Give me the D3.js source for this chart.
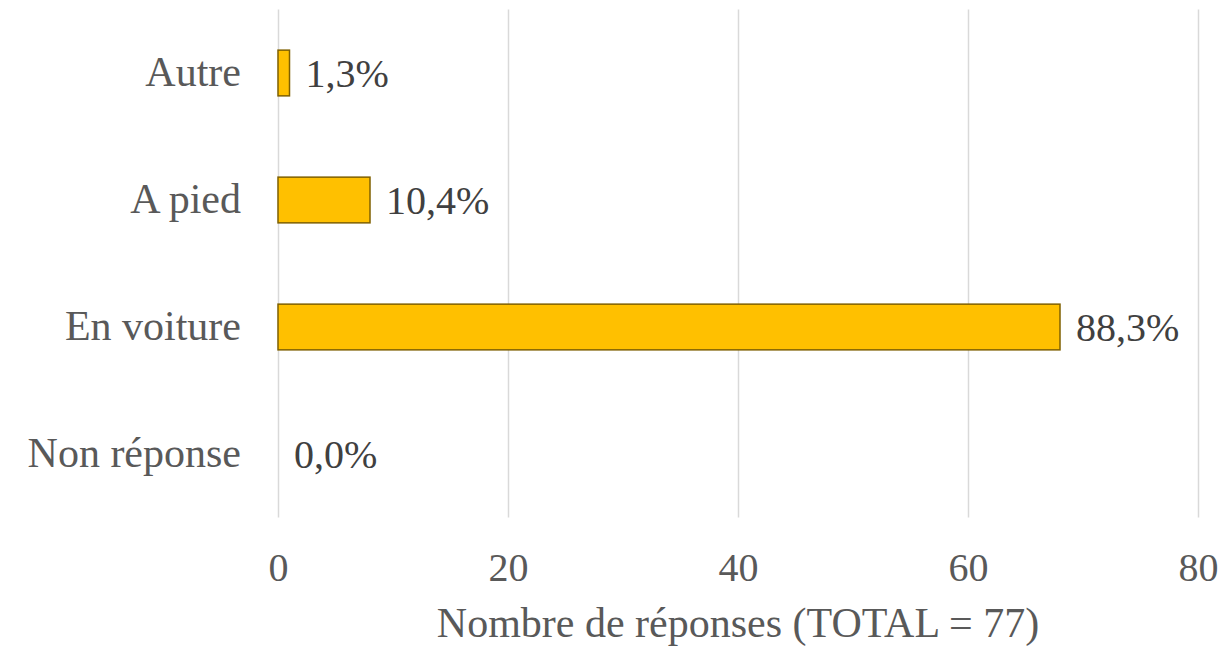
<!DOCTYPE html>
<html>
<head>
<meta charset="utf-8">
<script src="https://cdn.jsdelivr.net/npm/d3@7"></script>
<style>
  body { margin: 0; background: #fff; }
  text { font-family: "Liberation Serif", serif; }
</style>
</head>
<body>
<svg class="chart"></svg>
<script>
var categories = ["Autre", "A pied", "En voiture", "Non réponse"]
var counts = [1, 8, 68, 0]
var pctLabels = ["1,3%", "10,4%", "88,3%", "0,0%"]
var xTicks = [0, 20, 40, 60, 80]
var axisTitle = "Nombre de réponses (TOTAL = 77)"

var margin = {top: 9.5, right: 28, bottom: 128.5, left: 278},
    width  = 1226 - margin.left - margin.right,
    height = 646 - margin.top - margin.bottom

var chart = d3.select(".chart")
    .attr("width", 1226)
    .attr("height", 646)

var g = chart.append("g")
    .attr("transform", "translate(" + margin.left + "," + margin.top + ")")

var x = d3.scaleLinear().domain([0, 80]).range([0, 920])

var y = d3.scaleBand()
    .domain(categories)
    .range([0, height])
    .paddingInner(0.64)
    .paddingOuter(0.32)

// gridlines
g.selectAll(".grid")
    .data(xTicks)
  .enter().append("line")
    .attr("x1", function(d) { return Math.round(x(d)) + 0.5 })
    .attr("x2", function(d) { return Math.round(x(d)) + 0.5 })
    .attr("y1", 0)
    .attr("y2", height)
    .attr("stroke", "#d9d9d9")
    .attr("stroke-width", 1.5)

// bars
g.selectAll(".bar")
    .data(categories)
  .enter().append("rect")
    .filter(function(d, i) { return counts[i] > 0 })
    .attr("x", x(0))
    .attr("y", function(d) { return y(d) })
    .attr("width", function(d) { return x(counts[categories.indexOf(d)]) - x(0) })
    .attr("height", y.bandwidth())
    .attr("fill", "#FFC000")
    .attr("stroke", "#7F6000")
    .attr("stroke-width", 1.5)

// data labels
g.selectAll(".lbl")
    .data(categories)
  .enter().append("text")
    .attr("x", function(d, i) { return x(counts[i]) + 16 })
    .attr("y", function(d) { return y(d) + y.bandwidth() / 2 })
    .attr("dy", "0.35em")
    .attr("fill", "#404040")
    .attr("font-size", 40)
    .text(function(d, i) { return pctLabels[i] })

// y axis labels
var yAxis = d3.axisLeft(y).tickSize(0).tickPadding(37)
g.append("g")
    .call(yAxis)
    .call(function(s) { s.select(".domain").remove() })
    .selectAll("text")
    .attr("fill", "#595959")
    .attr("font-size", 42)
    .attr("font-family", "Liberation Serif, serif")

// x axis
var xAxis = d3.axisBottom(x).tickValues(xTicks).tickSize(0).tickPadding(35)
g.append("g")
    .attr("transform", "translate(0," + height + ")")
    .call(xAxis)
    .call(function(s) { s.select(".domain").remove() })
    .selectAll("text")
    .attr("fill", "#595959")
    .attr("font-size", 40)
    .attr("font-family", "Liberation Serif, serif")

chart.append("text")
    .attr("x", margin.left + 460)
    .attr("y", 637)
    .attr("text-anchor", "middle")
    .attr("fill", "#595959")
    .attr("font-size", 42)
    .text(axisTitle)
</script>
</body>
</html>
